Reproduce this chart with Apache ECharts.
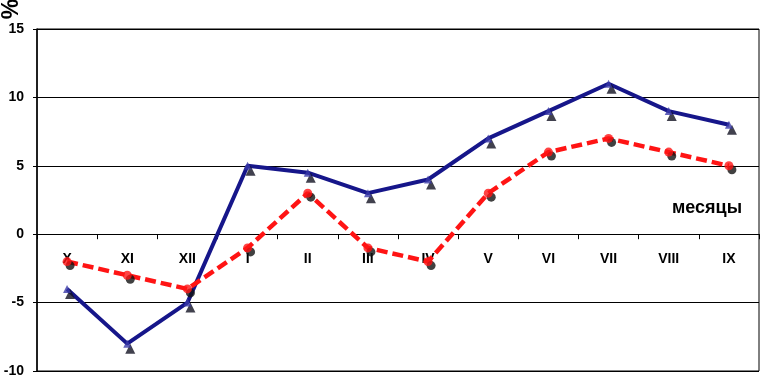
<!DOCTYPE html>
<html>
<head>
<meta charset="utf-8">
<script src="https://cdn.jsdelivr.net/npm/echarts@6/dist/echarts.min.js"></script>
<style>html,body{margin:0;padding:0;background:#fff}#c{width:760px;height:382px}</style>
</head>
<body>
<div id="c"></div>
<script>
var categories = ['X','XI','XII','I','II','III','IV','V','VI','VII','VIII','IX'];
var blueValues = [-4, -8, -5, 5, 4.5, 3, 4, 7, 9, 11, 9, 8];
var redValues = [-2, -3, -4, -1, 3, -1, -2, 3, 6, 7, 6, 5];
var yTicks = {min: -10, max: 15, step: 5};
var unitLabel = '%';
var xAxisTitle = 'месяцы';

var FONT = '"Liberation Sans", Arial, sans-serif';
var chart = echarts.init(document.getElementById('c'), null, {renderer: 'canvas'});
var LABEL_GAP = 18;
chart.setOption({
  animation: false,
  backgroundColor: '#fff',
  grid: {left: 37, right: 1, top: 29, bottom: 11, show: true, borderColor: '#000', borderWidth: 1,
         backgroundColor: 'transparent', containLabel: false, outerBoundsMode: 'none'},
  xAxis: {
    type: 'category', data: categories, boundaryGap: true,
    axisLine: {onZero: true, onZeroAxisIndex: 0, lineStyle: {color: '#000', width: 1}},
    axisTick: {show: true, length: 5, lineStyle: {color: '#000'}},
    axisLabel: {margin: LABEL_GAP, fontFamily: FONT, fontWeight: 'bold', fontSize: 14, color: '#000'},
    splitLine: {show: false}
  },
  yAxis: {
    type: 'value', min: yTicks.min, max: yTicks.max, interval: yTicks.step,
    axisLine: {show: true, lineStyle: {color: '#000', width: 1.5}},
    axisTick: {show: true, length: 4, lineStyle: {color: '#000'}},
    axisLabel: {margin: 13, fontFamily: FONT, fontWeight: 'bold', fontSize: 14, color: '#000'},
    splitLine: {show: true, lineStyle: {color: '#000', width: 1}}
  },
  graphic: [
    {type: 'text', x: 742, y: 208, style: {text: xAxisTitle, fill: '#000', font: 'bold 18px ' + FONT, textAlign: 'right', textVerticalAlign: 'middle'}},
    {type: 'text', x: 12, y: 9, rotation: Math.PI / 2, style: {text: unitLabel, fill: '#000', font: 'bold 23px ' + FONT, textAlign: 'center', textVerticalAlign: 'middle'}}
  ],
  series: [
    {type: 'line', data: blueValues, showSymbol: false, z: 2,
     lineStyle: {color: '#16168a', width: 4}},
    {type: 'line', data: redValues, showSymbol: false, z: 2,
     lineStyle: {color: '#ff1414', width: 4.5, type: [11, 5]}},
    {type: 'scatter', data: blueValues, z: 3, symbol: 'triangle', symbolSize: 10, symbolOffset: [3, 5],
     itemStyle: {color: '#111122'}},
    {type: 'scatter', data: redValues, z: 3, symbol: 'circle', symbolSize: 9, symbolOffset: [3, 4],
     itemStyle: {color: '#111'}},
    {type: 'scatter', data: blueValues, z: 4, symbol: 'triangle', symbolSize: 8,
     itemStyle: {color: '#3a3aa8'}},
    {type: 'scatter', data: redValues, z: 4, symbol: 'circle', symbolSize: 9,
     itemStyle: {color: '#ff1414'}}
  ]
});
// Put the category labels under the zero line (where the x axis line sits).
var yZero = chart.convertToPixel({yAxisIndex: 0}, 0);
var yBottom = chart.convertToPixel({yAxisIndex: 0}, yTicks.min);
chart.setOption({xAxis: {axisLabel: {margin: LABEL_GAP - (yBottom - yZero)}}});
</script>
</body>
</html>
